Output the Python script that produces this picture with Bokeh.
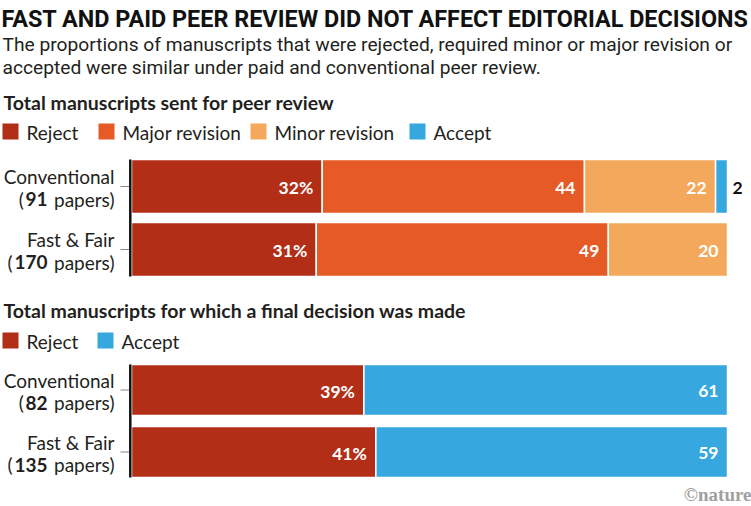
from bokeh.plotting import figure
from bokeh.models import Range1d
from bokeh.core.properties import value
from bokeh.embed import file_html
from bokeh.resources import INLINE

# ---------------- data ----------------
title = "FAST AND PAID PEER REVIEW DID NOT AFFECT EDITORIAL DECISIONS"
subtitle = ["The proportions of manuscripts that were rejected, required minor or major revision or",
            "accepted were similar under paid and conventional peer review."]
groups = ["Conventional", "Fast & Fair"]

review_header = "Total manuscripts sent for peer review"
review_papers = [91, 170]
review_cats = ["Reject", "Major revision", "Minor revision", "Accept"]
review_reject = [32, 31]
review_major = [44, 49]
review_minor = [22, 20]
review_accept = [2, 0]

final_header = "Total manuscripts for which a final decision was made"
final_papers = [82, 135]
final_cats = ["Reject", "Accept"]
final_reject = [39, 41]
final_accept = [61, 59]

credit = "\u00a9nature"

# ---------------- styles / layout ----------------
COLORS = {"Reject": "#B22E17", "Major revision": "#E65A25",
          "Minor revision": "#F4A85B", "Accept": "#36A7DF"}
W, H = 751, 506
X0, SCALE = 131.0, 5.96          # pixel of 0 %, pixels per %
SANS = "Lato"
COND = "Roboto"
DARK = "#231f20"
LBL = 19

p = figure(width=W, height=H, output_backend="svg", toolbar_location=None,
           x_range=Range1d(-X0 / SCALE, (W - X0) / SCALE),
           y_range=Range1d(H, 0), min_border=0,
           x_axis_location=None, y_axis_location=None,
           background_fill_color="white", border_fill_color="white",
           outline_line_color=None)
p.extra_x_ranges = {"px": Range1d(0, W)}
p.grid.visible = False


def txt(x, y, t, size, bold=False, color=DARK, align="left", font=SANS, rng="px", xoff=0):
    p.text(x=x, y=y, text=t, x_range_name=rng, text_font=value(font),
           text_font_size=value(f"{size}px"), text_font_style="bold" if bold else "normal",
           text_color=color, text_align=align, text_baseline="middle", x_offset=xoff)


# title + subtitle
txt([1], [18], [title], 23.4, bold=True, color="#111111", font=COND)
txt([2, 2], [44, 67], subtitle, 19.2, color=DARK, font=COND)


def digit_width(s):
    return 11.3 * len(s)


def panel(header, cats, series, papers, y_header, y_legend, legend_x, centers, height):
    txt([3], [y_header], [header], 19.5, bold=True)
    # legend
    lx = legend_x
    p.rect(x=[x + 8 for x in lx], y=[y_legend] * len(cats), width=16, height=16,
           x_range_name="px", color=[COLORS[c] for c in cats], line_color=None)
    txt([x + 24 for x in lx], [y_legend + 0.5] * len(cats), cats, LBL)
    # stacked bars
    n = len(centers)
    left = [0.0] * n
    for cat, vals in zip(cats, series):
        keep = [i for i in range(n) if vals[i] > 0]
        rights = [left[i] + vals[i] for i in range(n)]
        p.hbar(y=[centers[i] for i in keep], left=[left[i] for i in keep],
               right=[rights[i] for i in keep], height=height,
               fill_color=COLORS[cat], line_color="white", line_width=1.5)
        first = cat == cats[0]
        ins = [i for i in keep if vals[i] >= 5]
        out = [i for i in keep if vals[i] < 5]
        if ins:
            p.text(x=[rights[i] for i in ins], y=[centers[i] + 1 for i in ins],
                   text=[f"{vals[i]}%" if first else f"{vals[i]}" for i in ins],
                   text_font=value(SANS), text_font_size=value("17.5px"),
                   text_font_style="bold", text_color="white", text_align="right",
                   text_baseline="middle", x_offset=-9)
        if out:
            p.text(x=[rights[i] for i in out], y=[centers[i] + 1 for i in out],
                   text=[f"{vals[i]}" for i in out],
                   text_font=value(SANS), text_font_size=value("17.5px"),
                   text_font_style="bold", text_color="#111111", text_align="left",
                   text_baseline="middle", x_offset=5)
        left = rights
    # axis line and ticks
    top = centers[0] - height / 2
    bot = centers[-1] + height / 2
    p.segment(x0=[129.8], y0=[top], x1=[129.8], y1=[bot], x_range_name="px",
              line_color="#111111", line_width=2.5)
    p.segment(x0=[120] * n, y0=centers, x1=[128.5] * n, y1=centers, x_range_name="px",
              line_color="#888888", line_width=1)
    # category labels
    for g, c, num in zip(groups, centers, papers):
        s = str(num)
        txt([114], [c - 10], [g], LBL, align="right")
        txt([114], [c + 12.5], ["papers)"], LBL, align="right")
        txt([47], [c + 12.5], [s], LBL, bold=True, align="right")
        txt([47 - digit_width(s) - 1], [c + 12.5], ["("], LBL, align="right")


panel(review_header, review_cats,
      [review_reject, review_major, review_minor, review_accept], review_papers,
      102, 131, [2, 98, 250, 409], [186, 249], 54)
panel(final_header, final_cats, [final_reject, final_accept], final_papers,
      310, 340, [2, 97], [389.5, 451.5], 51)

txt([751], [494], [credit], 19, bold=True, color="#a0a0a0", align="right",
    font="Liberation Serif")

open("out.html", "w").write(file_html(p, INLINE))
